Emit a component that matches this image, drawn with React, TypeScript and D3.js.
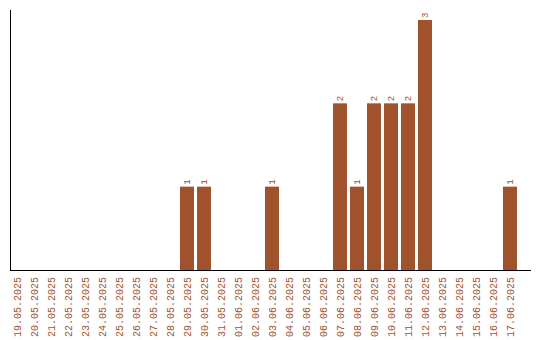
import React from "react";
import * as d3 from "d3";

const dates = [
  "19.05.2025","20.05.2025","21.05.2025","22.05.2025","23.05.2025","24.05.2025",
  "25.05.2025","26.05.2025","27.05.2025","28.05.2025","29.05.2025","30.05.2025",
  "31.05.2025","01.06.2025","02.06.2025","03.06.2025","04.06.2025","05.06.2025",
  "06.06.2025","07.06.2025","08.06.2025","09.06.2025","10.06.2025","11.06.2025",
  "12.06.2025","13.06.2025","14.06.2025","15.06.2025","16.06.2025","17.06.2025",
];
const counts = [0,0,0,0,0,0,0,0,0,0,1,1,0,0,0,1,0,0,0,2,1,2,2,2,3,0,0,0,0,1];

const W = 540, H = 340;
const color = "#A0522D";

export default function App() {
  const x = d3.scaleBand<string>().domain(dates).range([10, 517]).paddingInner(3 / 17).paddingOuter(0);
  const y = d3.scaleLinear().domain([0, 3]).range([270, 20]);
  const font = "'Liberation Mono', monospace";
  return (
    <svg width={W} height={H} style={{ position: "absolute", left: 0, top: 0, background: "#fff" }}>
      {dates.map((d, i) =>
        counts[i] > 0 ? (
          <g key={d}>
            <rect x={x(d)} y={y(counts[i])} width={x.bandwidth()} height={y(0) - y(counts[i])} fill={color} />
            <text
              transform={`translate(${(x(d) as number) + x.bandwidth() / 2},${y(counts[i]) - 2}) rotate(-90)`}
              dy="0.35em"
              textAnchor="start"
              fontFamily={font}
              fontSize={9}
              fill={color}
            >
              {counts[i]}
            </text>
          </g>
        ) : null
      )}
      <line x1={10.5} x2={10.5} y1={10} y2={270} stroke="#000" strokeWidth={1} />
      <line x1={10} x2={531} y1={270.5} y2={270.5} stroke="#000" strokeWidth={1} />
      {dates.map((d) => (
        <text
          key={"l" + d}
          transform={`translate(${(x(d) as number) + x.bandwidth() / 2},277) rotate(-90)`}
          dy="0.35em"
          textAnchor="end"
          fontFamily={font}
          fontSize={10}
          fill={color}
        >
          {d}
        </text>
      ))}
    </svg>
  );
}
